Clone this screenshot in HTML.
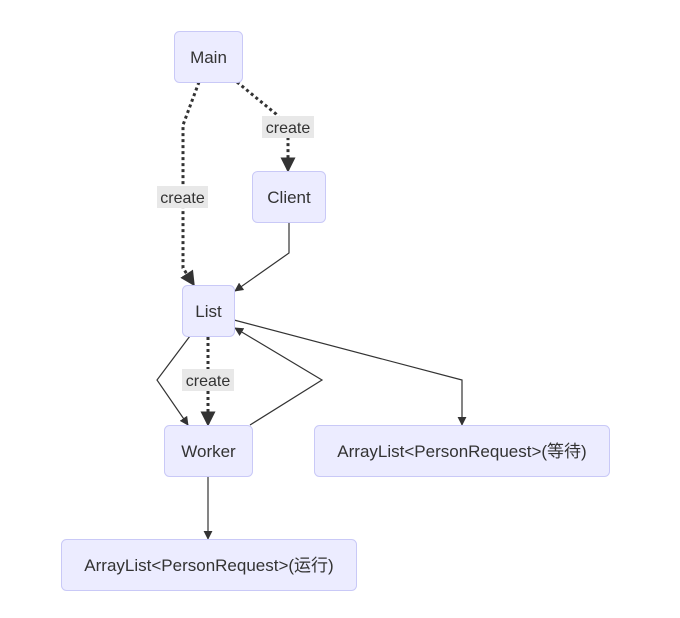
<!DOCTYPE html>
<html><head><meta charset="utf-8"><style>
html,body{margin:0;padding:0;background:#fff;}
svg{display:block;font-family:"Liberation Sans","Noto Sans CJK SC",sans-serif;}
</style></head><body>
<svg width="680" height="618" viewBox="0 0 680 618" xmlns="http://www.w3.org/2000/svg">
<defs>
<marker id="big" viewBox="0 0 10 10" refX="9" refY="5" markerWidth="8" markerHeight="8" markerUnits="userSpaceOnUse" orient="auto"><path d="M0,0L10,5L0,10z" fill="#333"/></marker>
<marker id="sm" viewBox="0 0 10 10" refX="9" refY="5" markerWidth="9" markerHeight="9" markerUnits="userSpaceOnUse" orient="auto"><path d="M0,0L10,5L0,10z" fill="#333"/></marker>
<marker id="bigd" viewBox="0 0 10 10" refX="9" refY="5" markerWidth="15" markerHeight="15" markerUnits="userSpaceOnUse" orient="auto"><path d="M0,0L10,5L0,10z" fill="#333"/></marker>
</defs>
<g fill="none" stroke="#333" stroke-width="3" stroke-dasharray="3,3">
<path d="M199,82 L183,125 L183,268 L194,285" marker-end="url(#bigd)"/>
<path d="M237,82 L276,114 L288,128 L288,171" marker-end="url(#bigd)"/>
<path d="M208,337 L208,425" marker-end="url(#bigd)"/>
</g>
<g fill="none" stroke="#333" stroke-width="1.2">
<path d="M289,222 L289,253 L235,291" marker-end="url(#sm)"/>
<path d="M190,336 L157,380 L188,425" marker-end="url(#sm)"/>
<path d="M250,425 L322,380 L235,328" marker-end="url(#sm)"/>
<path d="M234,320 L462,380 L462,425" marker-end="url(#sm)"/>
<path d="M208,476 L208,539" marker-end="url(#sm)"/>
</g>
<g fill="#e8e8e8">
<rect x="157" y="186" width="51" height="22"/>
<rect x="262" y="116" width="52" height="22"/>
<rect x="182" y="369" width="52" height="22"/>
</g>
<g font-size="16" fill="#333" text-anchor="middle">
<text x="182.5" y="203">create</text>
<text x="288" y="133">create</text>
<text x="208" y="386">create</text>
</g>
<g fill="#ececff" stroke="#c9c9f7" stroke-width="1">
<rect x="174.5" y="31.5" width="68" height="51" rx="5"/>
<rect x="252.5" y="171.5" width="73" height="51" rx="5"/>
<rect x="182.5" y="285.5" width="52" height="51" rx="5"/>
<rect x="164.5" y="425.5" width="88" height="51" rx="5"/>
<rect x="314.5" y="425.5" width="295" height="51" rx="5"/>
<rect x="61.5" y="539.5" width="295" height="51" rx="5"/>
</g>
<g font-size="17" fill="#333" text-anchor="middle">
<text x="208.5" y="63">Main</text>
<text x="289" y="203">Client</text>
<text x="208.5" y="317">List</text>
<text x="208.5" y="457">Worker</text>
<text x="462" y="457">ArrayList&lt;PersonRequest&gt;(等待)</text>
<text x="209" y="571">ArrayList&lt;PersonRequest&gt;(运行)</text>
</g>
</svg>
</body></html>
